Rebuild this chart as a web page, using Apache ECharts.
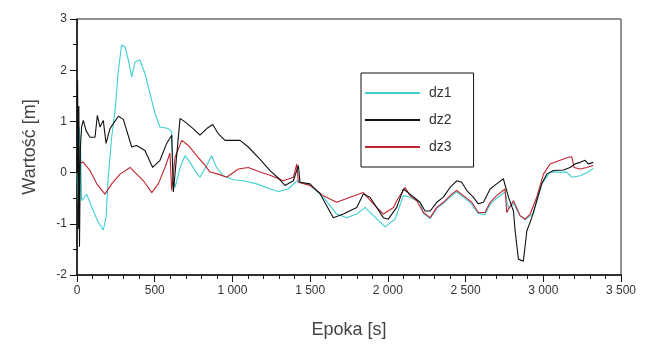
<!DOCTYPE html>
<html><head><meta charset="utf-8">
<script src="https://cdn.jsdelivr.net/npm/echarts@6/dist/echarts.min.js"></script>
<style>html,body{margin:0;padding:0;background:#fff}#c{width:647px;height:351px}</style>
</head><body><div id="c"></div>
<script>
var seriesNames = ['dz1', 'dz2', 'dz3'];
var xTicks = [0, 500, 1000, 1500, 2000, 2500, 3000, 3500];
var yTicks = [-2, -1, 0, 1, 2, 3];

var dz1_t = [0, 8, 14, 22, 30, 62, 73, 105, 137, 169, 187, 201, 223, 245, 266, 287, 309, 330, 352, 373, 405, 437, 470, 502, 534, 587, 610, 620, 631, 663, 695, 727, 759, 791, 835, 866, 898, 941, 1006, 1070, 1156, 1242, 1296, 1360, 1414, 1499, 1585, 1671, 1736, 1800, 1853, 1907, 1982, 2046, 2100, 2143, 2207, 2229, 2272, 2315, 2357, 2411, 2443, 2486, 2540, 2582, 2625, 2658, 2700, 2754, 2776, 2808, 2851, 2883, 2936, 2958, 2990, 3044, 3151, 3183, 3237, 3280, 3322];
var dz1_v = [0, -0.6, 0.9, 0.6, -0.55, -0.42, -0.42, -0.75, -0.97, -1.12, -0.88, -0.09, 0.69, 1.22, 2.0, 2.49, 2.46, 2.2, 1.87, 2.16, 2.2, 1.94, 1.54, 1.15, 0.89, 0.86, 0.8, -0.1, -0.29, 0.10, 0.33, 0.2, 0.04, -0.09, 0.14, 0.33, 0.1, -0.06, -0.14, -0.16, -0.22, -0.32, -0.37, -0.32, -0.16, -0.25, -0.48, -0.81, -0.88, -0.81, -0.68, -0.84, -1.06, -0.91, -0.45, -0.48, -0.58, -0.8, -0.9, -0.7, -0.6, -0.45, -0.38, -0.48, -0.62, -0.8, -0.82, -0.62, -0.5, -0.38, -0.7, -0.6, -0.85, -0.92, -0.8, -0.55, -0.22, 0.01, 0.01, -0.09, -0.06, 0.0, 0.08];

var dz2_t = [0, 4, 8, 12, 16, 22, 30, 41, 58, 84, 116, 131, 148, 169, 187, 212, 266, 298, 352, 384, 437, 487, 534, 577, 609, 620, 663, 695, 747, 791, 835, 873, 909, 952, 1049, 1102, 1178, 1242, 1296, 1338, 1392, 1424, 1435, 1499, 1563, 1649, 1714, 1800, 1842, 1885, 1971, 2003, 2057, 2100, 2143, 2207, 2239, 2272, 2315, 2357, 2400, 2443, 2475, 2508, 2550, 2582, 2615, 2658, 2700, 2743, 2754, 2776, 2808, 2819, 2840, 2872, 2894, 2926, 2958, 2990, 3022, 3065, 3130, 3172, 3205, 3237, 3269, 3290, 3322];
var dz2_v = [0, 1.8, -1.1, 1.3, -1.45, 0.5, 0.9, 1.02, 0.82, 0.69, 0.69, 1.12, 0.89, 1.02, 0.57, 0.86, 1.10, 1.04, 0.50, 0.53, 0.43, 0.10, 0.24, 0.57, 0.73, -0.38, 1.06, 0.99, 0.86, 0.73, 0.86, 0.94, 0.76, 0.63, 0.63, 0.50, 0.26, 0.04, -0.11, -0.25, -0.16, 0.14, -0.19, -0.22, -0.41, -0.88, -0.81, -0.68, -0.42, -0.48, -0.88, -0.91, -0.68, -0.32, -0.42, -0.58, -0.75, -0.75, -0.58, -0.48, -0.29, -0.16, -0.19, -0.35, -0.48, -0.61, -0.58, -0.32, -0.22, -0.12, -0.14, -0.48, -0.75, -1.14, -1.69, -1.73, -1.14, -0.88, -0.55, -0.22, -0.03, 0.04, 0.05, 0.10, 0.17, 0.20, 0.24, 0.17, 0.20];

var dz3_t = [10, 20, 41, 84, 127, 180, 223, 277, 341, 384, 427, 481, 523, 566, 598, 609, 631, 674, 716, 770, 824, 856, 909, 963, 1038, 1102, 1178, 1242, 1328, 1392, 1414, 1424, 1499, 1585, 1671, 1757, 1842, 1907, 1971, 2036, 2057, 2111, 2143, 2186, 2229, 2272, 2315, 2357, 2411, 2443, 2486, 2540, 2582, 2625, 2658, 2700, 2754, 2765, 2808, 2851, 2883, 2915, 2958, 3001, 3044, 3108, 3162, 3183, 3198, 3237, 3280, 3322];
var dz3_v = [0.05, 0.2, 0.20, 0.04, -0.22, -0.42, -0.22, -0.03, 0.10, -0.03, -0.16, -0.39, -0.22, 0.10, 0.38, -0.35, 0.30, 0.63, 0.53, 0.33, 0.14, 0.01, -0.03, -0.09, 0.07, 0.10, 0.01, -0.05, -0.16, -0.09, 0.17, -0.19, -0.25, -0.45, -0.58, -0.48, -0.39, -0.61, -0.81, -0.68, -0.55, -0.29, -0.45, -0.55, -0.78, -0.88, -0.68, -0.58, -0.42, -0.35, -0.45, -0.58, -0.78, -0.78, -0.58, -0.45, -0.32, -0.78, -0.55, -0.84, -0.91, -0.81, -0.48, -0.03, 0.17, 0.24, 0.30, 0.31, 0.10, 0.07, 0.10, 0.14];

function pairs(t, v) { return t.map(function (x, i) { return [x, v[i]]; }); }
function fmt(n) { var s = String(n); return s.length > 3 ? s.slice(0, s.length - 3) + ' ' + s.slice(-3) : s; }

var chart = echarts.init(document.getElementById('c'), null, { renderer: 'canvas' });
var font = 'Liberation Sans, Arial, sans-serif';
var colors = ['#3fcfd0', '#111111', '#c02430'];
var data = [pairs(dz1_t, dz1_v), pairs(dz2_t, dz2_v), pairs(dz3_t, dz3_v)];
chart.setOption({
  animation: false,
  backgroundColor: '#ffffff',
  textStyle: { fontFamily: font },
  grid: { left: 77, right: 26, top: 19, bottom: 76, show: true, borderColor: '#222', borderWidth: 1 },
  legend: {
    data: seriesNames.map(function (n) { return { name: n, icon: 'rect' }; }),
    orient: 'vertical', left: 361, top: 73,
    itemWidth: 55, itemHeight: 2, itemGap: 13,
    padding: [13, 22, 13, 4], borderColor: '#111', borderWidth: 1,
    textStyle: { fontSize: 14, color: '#333', fontFamily: font, padding: [0, 0, 0, 4] }
  },
  xAxis: {
    type: 'value', min: xTicks[0], max: xTicks[xTicks.length - 1], interval: 500,
    name: 'Epoka [s]', nameLocation: 'middle', nameGap: 46,
    nameTextStyle: { fontSize: 18, color: '#444', fontFamily: font },
    axisLine: { show: true, onZero: false, lineStyle: { color: '#111', width: 1.5 } },
    axisTick: { show: true, length: 7, lineStyle: { color: '#111' } },
    minorTick: { show: true, splitNumber: 5, length: 4, lineStyle: { color: '#111' } },
    splitLine: { show: false },
    axisLabel: { fontSize: 12, color: '#333', margin: 10, formatter: function (v) { return fmt(v); } }
  },
  yAxis: {
    type: 'value', min: yTicks[0], max: yTicks[yTicks.length - 1], interval: 1,
    name: 'Wartość [m]', nameLocation: 'middle', nameGap: 38, nameRotate: 90,
    nameTextStyle: { fontSize: 18, color: '#444', fontFamily: font },
    axisLine: { show: true, onZero: false, lineStyle: { color: '#111', width: 1.5 } },
    axisTick: { show: true, length: 7, lineStyle: { color: '#111' } },
    minorTick: { show: true, splitNumber: 2, length: 4, lineStyle: { color: '#111' } },
    splitLine: { show: false },
    axisLabel: { fontSize: 12, color: '#333', margin: 10 }
  },
  series: seriesNames.map(function (n, i) {
    return {
      name: n, type: 'line', data: data[i], symbol: 'none', showSymbol: false,
      lineStyle: { color: colors[i], width: 1.1 }, itemStyle: { color: colors[i] },
      z: [1, 3, 2][i]
    };
  })
});
</script></body></html>
